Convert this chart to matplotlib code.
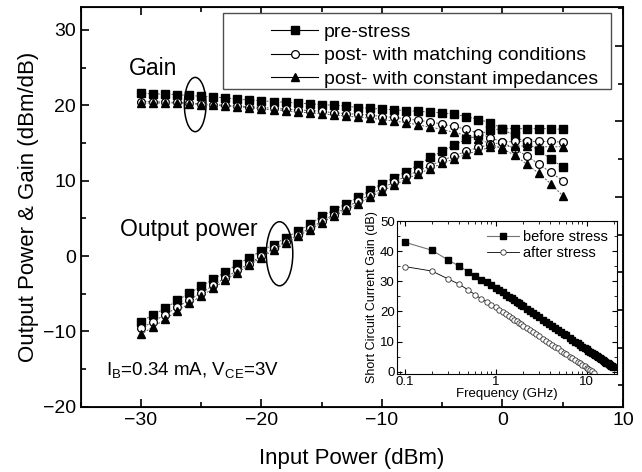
import numpy as np
import matplotlib.pyplot as plt
from matplotlib.lines import Line2D
from matplotlib.patches import Ellipse, Rectangle
from matplotlib.ticker import MultipleLocator, LogLocator, NullFormatter

plt.rcParams['font.family'] = ['Liberation Sans', 'DejaVu Sans']
plt.rcParams['mathtext.fontset'] = 'custom'
plt.rcParams['mathtext.rm'] = 'Liberation Sans'

# ==========================================
# Dados
# ==========================================
pin = [-30, -29, -28, -27, -26, -25, -24, -23, -22, -21, -20, -19, -18, -17, -16, -15, -14, -13,
       -12, -11, -10, -9, -8, -7, -6, -5, -4, -3, -2, -1, 0, 1, 2, 3, 4, 5]

gain_pre = [21.6, 21.5, 21.5, 21.4, 21.3, 21.2, 21.1, 21.0, 20.8, 20.7, 20.6, 20.5, 20.4, 20.3,
            20.2, 20.1, 20.0, 19.9, 19.7, 19.6, 19.5, 19.4, 19.3, 19.2, 19.1, 19.0, 18.8, 18.5,
            18.1, 17.7, 16.9, 15.9, 15.0, 14.0, 12.9, 11.8]
gain_match = [20.5, 20.5, 20.4, 20.4, 20.3, 20.2, 20.1, 20.0, 19.9, 19.8, 19.7, 19.6, 19.5, 19.4,
              19.3, 19.2, 19.0, 18.9, 18.8, 18.7, 18.5, 18.4, 18.2, 18.0, 17.8, 17.5, 17.2, 16.8,
              16.3, 15.7, 15.1, 14.2, 13.3, 12.2, 11.1, 10.0]
gain_const = [20.3, 20.3, 20.3, 20.3, 20.2, 20.1, 20.0, 19.9, 19.8, 19.7, 19.5, 19.4, 19.3, 19.1,
              19.0, 18.9, 18.7, 18.6, 18.4, 18.3, 18.1, 17.9, 17.7, 17.4, 17.1, 16.8, 16.4, 16.0,
              15.5, 14.9, 14.2, 13.4, 12.2, 11.0, 9.6, 8.0]

pout_pre = [-8.7, -7.8, -6.95, -5.9, -4.95, -4.0, -3.1, -2.1, -1.1, -0.2, 0.7, 1.5, 2.4, 3.3,
            4.2, 5.3, 6.1, 6.9, 7.8, 8.7, 9.6, 10.4, 11.2, 12.1, 13.1, 13.9, 14.7, 15.5,
            16.1, 16.7, 16.9, 16.9, 16.9, 16.9, 16.9, 16.8]
pout_match = [-9.6, -8.7, -7.8, -6.8, -5.8, -4.9, -3.9, -2.9, -1.9, -1.0, 0.0, 1.0, 1.9, 2.8,
              3.7, 4.6, 5.5, 6.4, 7.3, 8.1, 9.0, 9.8, 10.6, 11.3, 12.0, 12.7, 13.3, 13.9,
              14.4, 14.8, 15.1, 15.2, 15.2, 15.2, 15.2, 15.1]
pout_const = [-10.4, -9.4, -8.4, -7.3, -6.3, -5.3, -4.3, -3.2, -2.2, -1.2, -0.2, 0.8, 1.7, 2.6,
              3.5, 4.4, 5.3, 6.1, 6.9, 7.8, 8.6, 9.4, 10.2, 10.9, 11.6, 12.3, 12.9, 13.5,
              14.0, 14.4, 14.5, 14.6, 14.6, 14.5, 14.5, 14.5]

# inset: ganho de corrente de curto-circuito
freq = [0.1, 0.2, 0.3, 0.4, 0.5, 0.6, 0.7, 0.8, 0.9, 1.0, 1.1, 1.2, 1.3, 1.4, 1.5, 1.6, 1.7,
        1.8, 1.9, 2.0, 2.2, 2.4, 2.6, 2.8, 3.0, 3.3, 3.6, 3.9, 4.2, 4.5, 4.8, 5.2, 5.6, 6.0,
        6.5, 7.0, 7.5, 8.0, 8.5, 9.0, 9.5, 10, 10.5, 11, 11.5, 12, 12.5, 13, 13.5, 14, 14.5,
        15, 15.5, 16, 16.5, 17, 17.5, 18, 18.5, 19, 19.5]
h21_before = [43.0, 40.3, 37.1, 35.0, 33.2, 31.7, 30.5, 29.6, 28.7, 27.9, 27.1, 26.3, 25.6,
              24.9, 24.3, 23.7, 23.2, 22.7, 22.2, 21.7, 20.9, 20.1, 19.4, 18.7, 18.1, 17.3,
              16.5, 15.8, 15.1, 14.5, 13.9, 13.2, 12.6, 12.0, 11.2, 10.6, 10.0, 9.4, 8.9,
              8.3, 7.9, 7.4, 7.0, 6.6, 6.2, 5.8, 5.4, 5.1, 4.7, 4.4, 4.1, 3.8, 3.5, 3.2, 2.9,
              2.7, 2.4, 2.2, 1.9, 1.7, 1.5]
freq_after = freq[:46]
h21_after = [34.9, 33.4, 30.8, 29.0, 27.1, 25.5, 24.1, 23.2, 22.1, 21.3, 20.5, 19.7, 19.0,
             18.4, 17.8, 17.2, 16.7, 16.2, 15.7, 15.3, 14.5, 13.7, 13.0, 12.4, 11.8, 10.9,
             10.2, 9.5, 8.8, 8.2, 7.7, 7.0, 6.3, 5.7, 5.0, 4.4, 3.8, 3.2, 2.7, 2.2, 1.7,
             1.3, 0.9, 0.5, 0.1, -0.3]

# ==========================================
# Figura principal
# ==========================================
fig = plt.figure(figsize=(6.42, 4.72), dpi=100)
ax = fig.add_axes([0.1257, 0.1383, 0.8447, 0.8462])

dots = dict(color='0.35', lw=0.7, ls=(0, (2, 1.5)))
series = [
    (gain_pre, pout_pre, dict(marker='s', ms=5.4, mfc='k', mec='k')),
    (gain_match, pout_match, dict(marker='o', ms=5.6, mfc='white', mec='k', mew=0.9)),
    (gain_const, pout_const, dict(marker='^', ms=6.4, mfc='k', mec='k')),
]
for g, p, mk in series:
    ax.plot(pin, g, **dots, **mk)
    ax.plot(pin, p, **dots, **mk)

ax.set_xlim(-35, 10)
ax.set_ylim(-20, 33)
ax.xaxis.set_major_locator(MultipleLocator(10))
ax.xaxis.set_minor_locator(MultipleLocator(5))
ax.yaxis.set_major_locator(MultipleLocator(10))
ax.yaxis.set_minor_locator(MultipleLocator(5))
ax.tick_params(which='both', direction='in', top=True, right=False, labelsize=14, width=1.2)
ax.tick_params(which='major', length=6)
ax.tick_params(which='minor', length=3.5)
for s in ax.spines.values():
    s.set_linewidth(1.3)

# eixo direito deslocado (como no original)
ax2 = ax.twinx()
ax2.set_ylim(-22.85, 30.15)
ax2.yaxis.set_major_locator(MultipleLocator(10, offset=5))
ax2.yaxis.set_minor_locator(MultipleLocator(10))
ax2.tick_params(which='both', direction='in', labelright=False, width=1.2)
ax2.tick_params(which='major', length=6)
ax2.tick_params(which='minor', length=3.5)

ax.set_xlabel('Input Power (dBm)', fontsize=16, labelpad=14)
ax.set_ylabel('Output Power & Gain (dBm/dB)', fontsize=16, labelpad=3)

ax.text(-31.0, 24.0, 'Gain', fontsize=16.5)
ax.text(-31.7, 2.6, 'Output power', fontsize=16.5)
ax.text(-32.9, -15.9, r'I$_{\mathregular{B}}$=0.34 mA, V$_{\mathregular{CE}}$=3V', fontsize=13.5)
ax.add_patch(Ellipse((-25.5, 20.1), 1.8, 7.2, fill=False, lw=1.1, ec='k'))
ax.add_patch(Ellipse((-18.5, 0.3), 2.2, 8.5, fill=False, lw=1.1, ec='k'))

# caixa da legenda (mais larga que o texto, estilo Origin)
ax.add_patch(Rectangle((0.262, 0.795), 0.715, 0.191, transform=ax.transAxes,
                       fc='white', ec='0.3', lw=1.0, zorder=4))
handles = [Line2D([], [], color='k', lw=0.8, **mk) for _, _, mk in series]
labels = ['pre-stress', 'post- with matching conditions', 'post- with constant impedances']
leg = ax.legend(handles, labels, loc='upper right', bbox_to_anchor=(0.954, 0.96),
                borderaxespad=0, borderpad=0, fontsize=14, frameon=False,
                handlelength=2.4, handletextpad=0.3, labelspacing=0.3)
leg.set_zorder(5)

# ==========================================
# Inset
# ==========================================
axi = fig.add_axes([0.618, 0.2076, 0.343, 0.324])
axi.set_zorder(5)
axi.plot(freq, h21_before, color='0.45', lw=0.8, marker='s', ms=3.8, mfc='k', mec='k',
         label='before stress')
axi.plot(freq_after, h21_after, color='k', lw=0.6, marker='o', ms=3.9, mfc='white',
         mec='0.2', mew=0.6, label='after stress')
axi.set_xscale('log')
axi.set_xlim(0.082, 21.6)
axi.set_ylim(-0.8, 50)
axi.set_xticks([0.1, 1, 10])
axi.set_xticklabels(['0.1', '1', '10'])
axi.xaxis.set_minor_locator(LogLocator(base=10, subs=np.arange(2, 10)))
axi.xaxis.set_minor_formatter(NullFormatter())
axi.yaxis.set_major_locator(MultipleLocator(10))
axi.yaxis.set_minor_locator(MultipleLocator(5))
axi.tick_params(which='both', direction='in', top=True, right=True, labelsize=9.5, pad=1.5)
axi.tick_params(which='major', length=3.5)
axi.tick_params(which='minor', length=2)
axi.set_xlabel('Frequency (GHz)', fontsize=9.5, labelpad=0)
axi.set_ylabel('Short Circuit Current Gain (dB)', fontsize=9, labelpad=1)
axi.legend(loc='upper right', frameon=False, fontsize=10.5, handlelength=2.2,
           handletextpad=0.3, labelspacing=0.15, borderaxespad=0.2)

plt.savefig('out.png', dpi=100)
